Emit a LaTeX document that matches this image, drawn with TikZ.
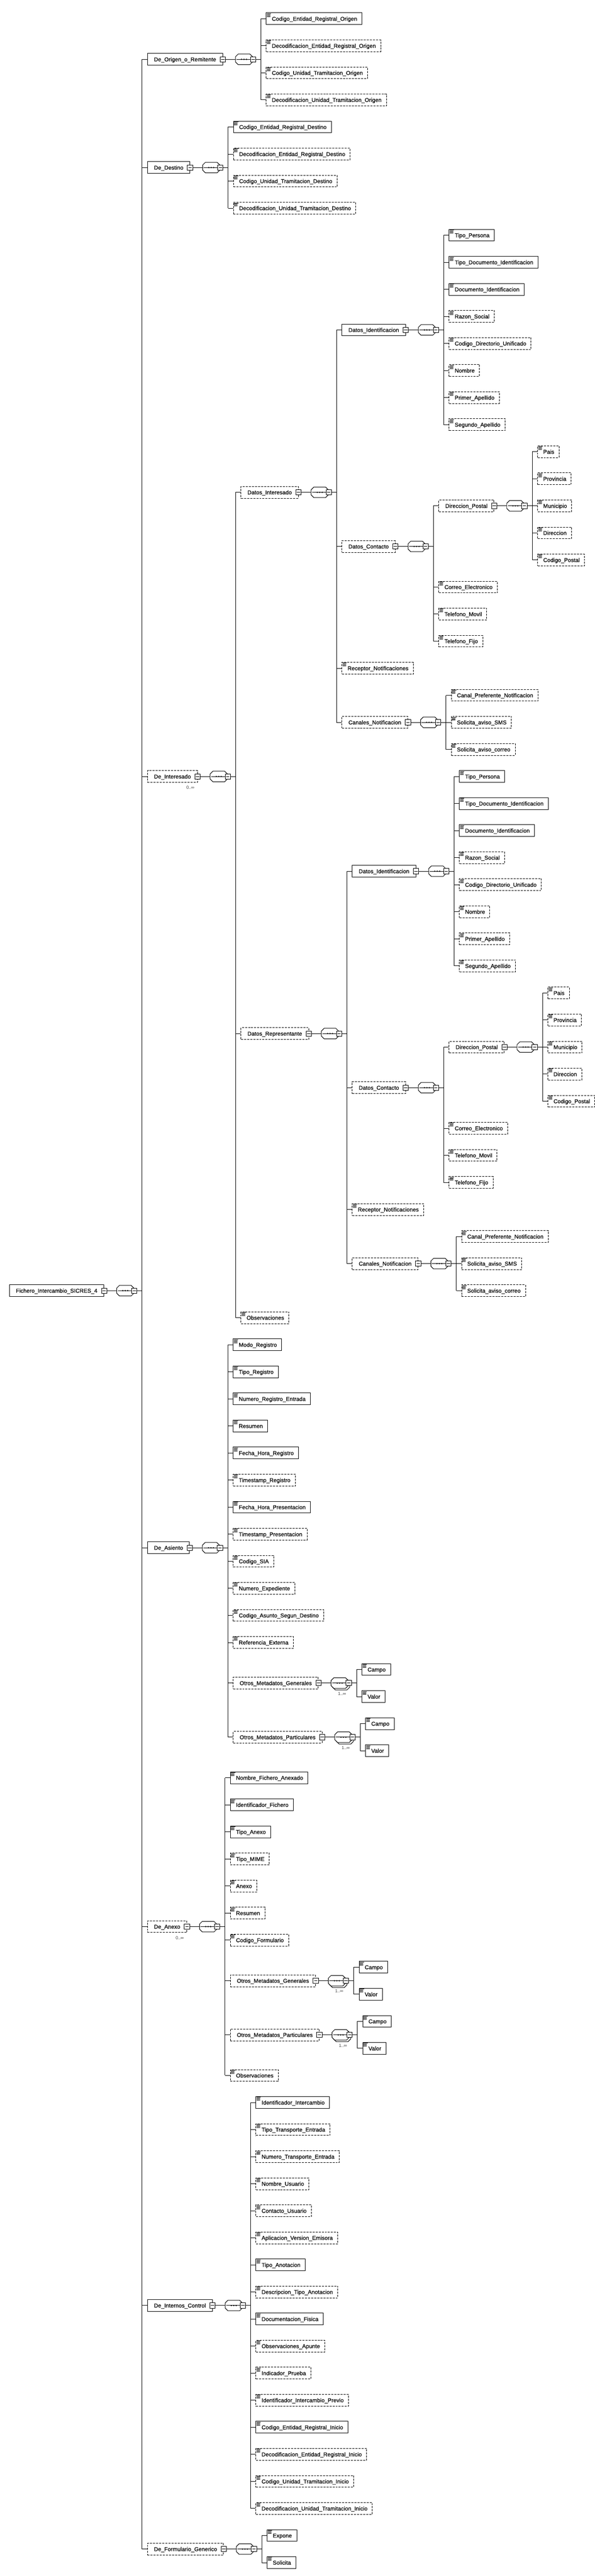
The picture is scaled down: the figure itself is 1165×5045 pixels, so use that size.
\documentclass[tikz,border=0pt]{standalone}
\usepackage{fontspec}
\setmainfont{Liberation Sans}
\newfontfamily\elfam{Liberation Sans}[FakeBold=0.5]
\usetikzlibrary{backgrounds}
\newcommand\dfont{\elfam\fontsize{11}{13}\selectfont}
\newcommand\lfont{\fontsize{8.5}{10}\selectfont}
\tikzset{
  elb/.style={draw, fill=white, minimum height=23pt, inner ysep=0pt, text height=7.9pt, text depth=0pt, anchor=west, font=\dfont},
  nl/.style={elb, inner xsep=12.7pt},
  lf/.style={elb, inner xsep=0pt},
  opt/.style={dash pattern=on 4pt off 2pt},
  mlbl/.style={font=\lfont, text=black!75, inner sep=0pt, anchor=east},
}
% minus box
\newcommand\MINUS[1]{%
  \draw[fill=white] ([shift={(-5.2pt,-5.2pt)}]#1) rectangle ([shift={(5.2pt,5.2pt)}]#1);
  \draw ([xshift=-3.2pt]#1) -- ([xshift=3.2pt]#1);}
% octagon
\newcommand\OCTA[1]{%
  \draw[fill=white] ([yshift=5pt]#1) -- ++(5.3,-5.3) -- ++(23,0) -- ++(5.3,5.3) -- ++(0,10) -- ++(-5.3,5.3) -- ++(-23,0) -- ++(-5.3,-5.3) -- cycle;}
% sequence group after an element box
\newcommand\GRPX[2]{%
  \draw ([xshift=5.2pt]#1.east) -- ([xshift=24.6pt]#1.east) coordinate (#1-o);
  \ifnum#2=1
    \coordinate (#1-os) at ([shift={(3pt,-3pt)}]#1-o);
    \OCTA{#1-os}
    \node[mlbl] at ([shift={(29.6pt,-20.6pt)}]#1-o) {1..∞};
  \fi
  \OCTA{#1-o}
  \draw ([xshift=2pt]#1-o) -- ([xshift=29.4pt]#1-o);
  \fill ([xshift=12pt]#1-o) circle[radius=1.4pt] ([xshift=16.8pt]#1-o) circle[radius=1.4pt] ([xshift=21.6pt]#1-o) circle[radius=1.4pt];
  \coordinate (#1-m) at ([xshift=34.6pt]#1-o);
  \MINUS{#1-m}
  \draw ([xshift=39.8pt]#1-o) -- ([xshift=49.9pt]#1-o) coordinate (#1-v);
  \coordinate (#1-c) at ([xshift=10pt]#1-v);
  \MINUS{#1.east}}
% leaf icon
\newcommand\mkicon[1]{%
  \draw[line width=0.9pt] ([shift={(1.5,1.8)}]#1.north west) -- ++(8.5,0)
    ([shift={(1.5,3.8)}]#1.north west) -- ++(7,0)
    ([shift={(1.5,5.8)}]#1.north west) -- ++(7,0)
    ([shift={(1.5,7.8)}]#1.north west) -- ++(7,0);}
% leaf: [opts]{name}{parent}{row}{text}
\newcommand\LF[5][]{%
  \pgfmathsetmacro\yy{36.7+53*(#4)}%
  \node[lf,#1] (#2) at (#3-c |- 0,\yy) {\hspace*{11pt}#5\hspace*{9.5pt}};
  \mkicon{#2}
  \draw (#3-v |- #2.west) -- (#2.west);}
% non-leaf: [opts]{name}{parent}{row}{text}{rep compositor}
\newcommand\NL[6][]{%
  \pgfmathsetmacro\yy{36.7+53*(#4)}%
  \node[nl,#1] (#2) at (#3-c |- 0,\yy) {#5};
  \draw (#3-v |- #2.west) -- (#2.west);
  \GRPX{#2}{#6}}
\newcommand\BUS[3]{\draw (#1-v |- #2.west) -- (#1-v |- #3.west);}
\newcommand\ESHADOW[1]{%
  \begin{scope}[on background layer]
    \draw[opt] ([shift={(3pt,-3pt)}]#1.north west) rectangle ([shift={(3pt,-3pt)}]#1.south east);
  \end{scope}
  \node[mlbl] at ([shift={(-6pt,-22pt)}]#1.east) {0..∞};}
% person subtree: {prefix}{parent}{base row}{label}
\newcommand\PERS[4]{%
  \NL[opt]{#1a}{#2}{#3+9.5}{#4}{0}
  \NL{#1b}{#1a}{#3+3.5}{Datos\_Identificacion}{0}
  \LF{#1ba}{#1b}{#3+0}{Tipo\_Persona}
  \LF{#1bb}{#1b}{#3+1}{Tipo\_Documento\_Identificacion}
  \LF{#1bc}{#1b}{#3+2}{Documento\_Identificacion}
  \LF[opt]{#1bd}{#1b}{#3+3}{Razon\_Social}
  \LF[opt]{#1be}{#1b}{#3+4}{Codigo\_Directorio\_Unificado}
  \LF[opt]{#1bf}{#1b}{#3+5}{Nombre}
  \LF[opt]{#1bg}{#1b}{#3+6}{Primer\_Apellido}
  \LF[opt]{#1bh}{#1b}{#3+7}{Segundo\_Apellido}
  \BUS{#1b}{#1ba}{#1bh}
  \NL[opt]{#1c}{#1a}{#3+11.5}{Datos\_Contacto}{0}
  \NL[opt]{#1d}{#1c}{#3+10}{Direccion\_Postal}{0}
  \LF[opt]{#1da}{#1d}{#3+8}{Pais}
  \LF[opt]{#1db}{#1d}{#3+9}{Provincia}
  \LF[opt]{#1dc}{#1d}{#3+10}{Municipio}
  \LF[opt]{#1dd}{#1d}{#3+11}{Direccion}
  \LF[opt]{#1de}{#1d}{#3+12}{Codigo\_Postal}
  \BUS{#1d}{#1da}{#1de}
  \LF[opt]{#1ca}{#1c}{#3+13}{Correo\_Electronico}
  \LF[opt]{#1cb}{#1c}{#3+14}{Telefono\_Movil}
  \LF[opt]{#1cc}{#1c}{#3+15}{Telefono\_Fijo}
  \BUS{#1c}{#1d}{#1cc}
  \LF[opt]{#1e}{#1a}{#3+16}{Receptor\_Notificaciones}
  \NL[opt]{#1f}{#1a}{#3+18}{Canales\_Notificacion}{0}
  \LF[opt]{#1fa}{#1f}{#3+17}{Canal\_Preferente\_Notificacion}
  \LF[opt]{#1fb}{#1f}{#3+18}{Solicita\_aviso\_SMS}
  \LF[opt]{#1fc}{#1f}{#3+19}{Solicita\_aviso\_correo}
  \BUS{#1f}{#1fa}{#1fc}
  \BUS{#1a}{#1b}{#1f}}
% metadata subtree: {name}{parent}{first row}{label}
\newcommand\META[4]{%
  \NL[opt]{#1}{#2}{#3+0.5}{#4}{1}
  \LF{#1a}{#1}{#3}{Campo}
  \LF{#1b}{#1}{#3+1}{Valor}
  \BUS{#1}{#1a}{#1b}}

\begin{document}
\begin{tikzpicture}[x=1pt,y=-1pt,line width=1pt]
\useasboundingbox[fill=white] (0,0) rectangle (1165,5045);

\node[nl] (R) at (18,2527.7) {Fichero\_Intercambio\_SICRES\_4};
\GRPX{R}{0}

% De_Origen_o_Remitente
\NL{o1}{R}{1.5}{De\_Origen\_o\_Remitente}{0}
\LF{o1a}{o1}{0}{Codigo\_Entidad\_Registral\_Origen}
\LF[opt]{o1b}{o1}{1}{Decodificacion\_Entidad\_Registral\_Origen}
\LF[opt]{o1c}{o1}{2}{Codigo\_Unidad\_Tramitacion\_Origen}
\LF[opt]{o1d}{o1}{3}{Decodificacion\_Unidad\_Tramitacion\_Origen}
\BUS{o1}{o1a}{o1d}

% De_Destino
\NL{d1}{R}{5.5}{De\_Destino}{0}
\LF{d1a}{d1}{4}{Codigo\_Entidad\_Registral\_Destino}
\LF[opt]{d1b}{d1}{5}{Decodificacion\_Entidad\_Registral\_Destino}
\LF[opt]{d1c}{d1}{6}{Codigo\_Unidad\_Tramitacion\_Destino}
\LF[opt]{d1d}{d1}{7}{Decodificacion\_Unidad\_Tramitacion\_Destino}
\BUS{d1}{d1a}{d1d}

% De_Interesado
\NL[opt]{i1}{R}{28}{De\_Interesado}{0}
\ESHADOW{i1}
\PERS{p}{i1}{8}{Datos\_Interesado}
\PERS{q}{i1}{28}{Datos\_Representante}
\LF[opt]{i1z}{i1}{48}{Observaciones}
\BUS{i1}{pa}{i1z}

% De_Asiento
\NL{s1}{R}{56.5}{De\_Asiento}{0}
\LF{s1a}{s1}{49}{Modo\_Registro}
\LF{s1b}{s1}{50}{Tipo\_Registro}
\LF{s1c}{s1}{51}{Numero\_Registro\_Entrada}
\LF{s1d}{s1}{52}{Resumen}
\LF{s1e}{s1}{53}{Fecha\_Hora\_Registro}
\LF[opt]{s1f}{s1}{54}{Timestamp\_Registro}
\LF{s1g}{s1}{55}{Fecha\_Hora\_Presentacion}
\LF[opt]{s1h}{s1}{56}{Timestamp\_Presentacion}
\LF[opt]{s1i}{s1}{57}{Codigo\_SIA}
\LF[opt]{s1j}{s1}{58}{Numero\_Expediente}
\LF[opt]{s1k}{s1}{59}{Codigo\_Asunto\_Segun\_Destino}
\LF[opt]{s1l}{s1}{60}{Referencia\_Externa}
\META{s2}{s1}{61}{Otros\_Metadatos\_Generales}
\META{s3}{s1}{63}{Otros\_Metadatos\_Particulares}
\BUS{s1}{s1a}{s3}

% De_Anexo
\NL[opt]{x1}{R}{70.5}{De\_Anexo}{0}
\ESHADOW{x1}
\LF{x1a}{x1}{65}{Nombre\_Fichero\_Anexado}
\LF{x1b}{x1}{66}{Identificador\_Fichero}
\LF{x1c}{x1}{67}{Tipo\_Anexo}
\LF[opt]{x1d}{x1}{68}{Tipo\_MIME}
\LF[opt]{x1e}{x1}{69}{Anexo}
\LF[opt]{x1f}{x1}{70}{Resumen}
\LF[opt]{x1g}{x1}{71}{Codigo\_Formulario}
\META{x2}{x1}{72}{Otros\_Metadatos\_Generales}
\META{x3}{x1}{74}{Otros\_Metadatos\_Particulares}
\LF[opt]{x1z}{x1}{76}{Observaciones}
\BUS{x1}{x1a}{x1z}

% De_Internos_Control
\NL{c1}{R}{84.5}{De\_Internos\_Control}{0}
\LF{c1a}{c1}{77}{Identificador\_Intercambio}
\LF[opt]{c1b}{c1}{78}{Tipo\_Transporte\_Entrada}
\LF[opt]{c1c}{c1}{79}{Numero\_Transporte\_Entrada}
\LF[opt]{c1d}{c1}{80}{Nombre\_Usuario}
\LF[opt]{c1e}{c1}{81}{Contacto\_Usuario}
\LF[opt]{c1f}{c1}{82}{Aplicacion\_Version\_Emisora}
\LF{c1g}{c1}{83}{Tipo\_Anotacion}
\LF[opt]{c1h}{c1}{84}{Descripcion\_Tipo\_Anotacion}
\LF{c1i}{c1}{85}{Documentacion\_Fisica}
\LF[opt]{c1j}{c1}{86}{Observaciones\_Apunte}
\LF[opt]{c1k}{c1}{87}{Indicador\_Prueba}
\LF[opt]{c1l}{c1}{88}{Identificador\_Intercambio\_Previo}
\LF{c1m}{c1}{89}{Codigo\_Entidad\_Registral\_Inicio}
\LF[opt]{c1n}{c1}{90}{Decodificacion\_Entidad\_Registral\_Inicio}
\LF[opt]{c1o}{c1}{91}{Codigo\_Unidad\_Tramitacion\_Inicio}
\LF[opt]{c1p}{c1}{92}{Decodificacion\_Unidad\_Tramitacion\_Inicio}
\BUS{c1}{c1a}{c1p}

% De_Formulario_Generico
\NL[opt]{f1}{R}{93.5}{De\_Formulario\_Generico}{0}
\LF{f1a}{f1}{93}{Expone}
\LF{f1b}{f1}{94}{Solicita}
\BUS{f1}{f1a}{f1b}

\BUS{R}{o1}{f1}
\end{tikzpicture}
\end{document}
